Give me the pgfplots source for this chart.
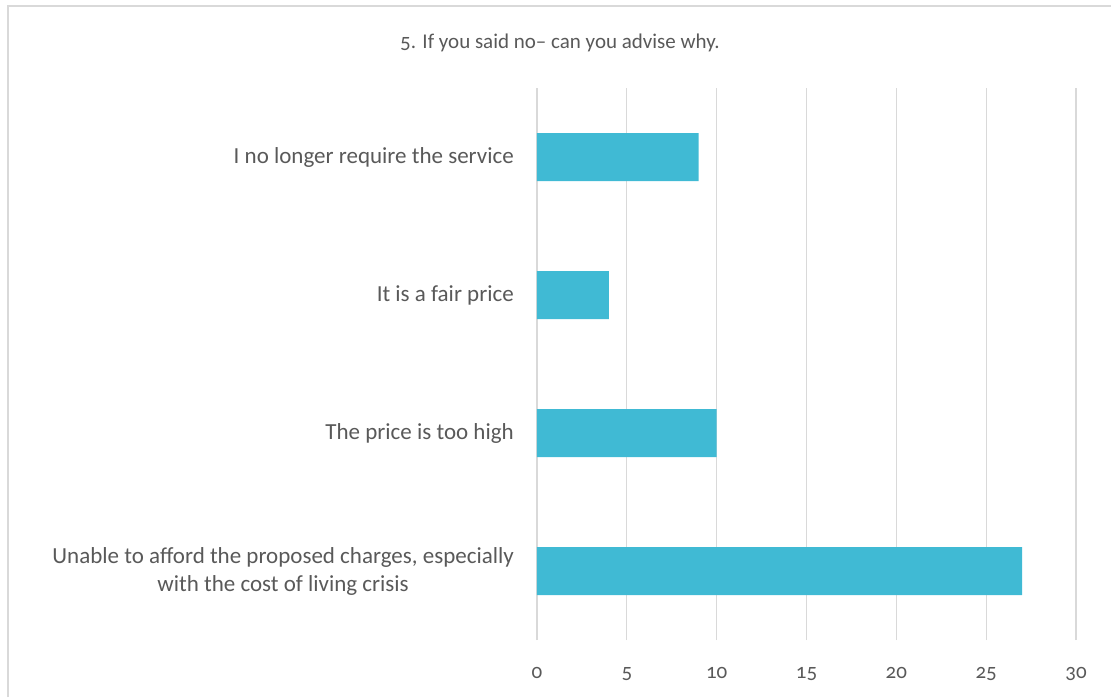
\documentclass[border=0pt]{standalone}
\usepackage{pgfplots}
\pgfplotsset{compat=1.18}
\usepackage{fontspec}
\setmainfont{Carlito}[Numbers=OldStyle]
\definecolor{txt}{HTML}{595959}
\definecolor{gridc}{HTML}{D9D9D9}
\definecolor{barc}{HTML}{40BAD4}
\begin{document}
\begin{tikzpicture}[x=1pt,y=1pt]
\path[use as bounding box] (0,0) rectangle (1111,697);
\draw[gridc, line width=1.2pt] (8,0) -- (8,691) -- (1111,691);
\node[txt, font=\fontsize{21}{24}\selectfont] at (560,654) {5. If you said no– can you advise why.};
\begin{axis}[
  at={(537pt,57pt)}, anchor=south west,
  scale only axis, width=539pt, height=552pt,
  xbar, bar width=48pt, bar shift=0pt,
  xmin=0, xmax=30, ymin=-0.5, ymax=3.5,
  xtick={0,5,...,30},
  ytick={0,1,2,3},
  yticklabels={{Unable to afford the proposed charges, especially\\with the cost of living crisis},
    The price is too high, It is a fair price, I no longer require the service},
  yticklabel style={align=center, inner sep=0pt, xshift=-23pt, text=txt,
    font=\fontsize{23}{28}\selectfont},
  xticklabel style={text=txt, font=\fontsize{21}{23}\selectfont, yshift=-24pt},
  /pgf/number format/assume math mode=true,
  major tick length=0pt,
  axis line style={draw=none},
  xmajorgrids, grid style={gridc, line width=1.3pt},
]
\addplot[fill=barc, draw=none] coordinates {(27,0) (10,1) (4,2) (9,3)};
\end{axis}
\end{tikzpicture}
\end{document}
